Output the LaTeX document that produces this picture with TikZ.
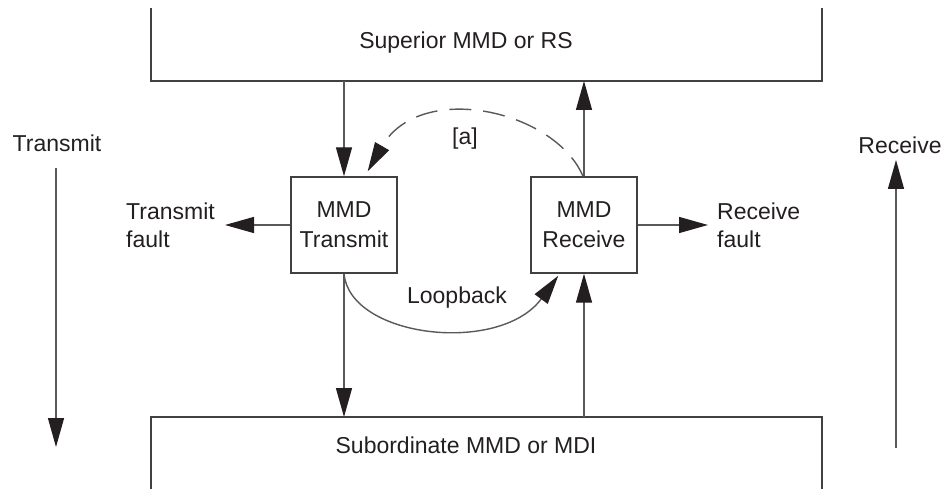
\documentclass[tikz,border=0pt]{standalone}
\usepackage{fontspec}
\setmainfont{Liberation Sans}
\usetikzlibrary{arrows.meta,calc}
\definecolor{linec}{HTML}{58595B}
\definecolor{inkc}{HTML}{231F20}
\definecolor{boxc}{HTML}{414042}
\tikzset{
  lbl/.style={text=inkc, font=\fontsize{23}{28}\selectfont, inner sep=0pt},
  mbox/.style={draw=boxc, line width=1.4pt, minimum width=106pt, minimum height=96pt,
    align=center, text=inkc, font=\fontsize{23}{30}\selectfont, inner sep=0pt},
  arr/.style={draw=linec, line width=1.4pt, -{Triangle[length=29pt,width=16pt,color=inkc]}},
  frame/.style={draw=boxc, line width=1.4pt},
  dashedarc/.style={dash pattern=on 22pt off 12pt}
}
\begin{document}
\begin{tikzpicture}[x=1pt,y=-1pt]
\useasboundingbox (0,0) rectangle (948,489);
% outer boxes
\coordinate (supTL) at (151,8);
\coordinate (supBL) at (151,81);
\coordinate (supBR) at (822,81);
\coordinate (supTR) at (822,8);
\draw[frame] (supTL) -- (supBL) -- (supBR) -- (supTR);
\node[lbl] (sup) at (466,43) {Superior MMD or RS};
\coordinate (subBL) at (151,489);
\coordinate (subTL) at (151,417);
\coordinate (subTR) at (822,417);
\coordinate (subBR) at (822,489);
\draw[frame] (subBL) -- (subTL) -- (subTR) -- (subBR);
\node[lbl] (sub) at (466,445) {Subordinate MMD or MDI};
% MMD boxes
\node[mbox] (tx) at (344,225) {MMD\\Transmit};
\node[mbox] (rx) at (584,225) {MMD\\Receive};
% vertical connectors
\draw[arr] (tx.north |- supBL) -- (tx.north);
\draw[arr] (rx.north) -- (rx.north |- supBL);
\draw[arr] (tx.south) -- (tx.south |- subTL);
\draw[arr] (rx.south |- subTL) -- (rx.south);
% fault labels
\node[lbl, align=left, anchor=east, inner xsep=10pt] (tfl) at (225,225) {Transmit\\fault};
\node[lbl, align=left, anchor=west, inner xsep=9pt] (rfl) at (708,225) {Receive\\fault};
\draw[arr] (tx.west) -- (tfl.east);
\draw[arr] (rx.east) -- (rfl.west);
% loopback
\coordinate (lbend) at ([xshift=28pt,yshift=-2pt]rx.south west);
\draw[arr] (tx.south) .. controls (350,338) and (500,355) .. (lbend);
\node[lbl] (lb) at (457,298) {Loopback};
% dashed [a]
\coordinate (aend) at ([xshift=-30pt,yshift=5pt]tx.north east);
\draw[arr, dashedarc] ([xshift=-1pt]rx.north) .. controls (555,110) and (420,80) .. (aend);
\node[lbl] (alab) at (465,139) {[a]};
% side arrows
\node[lbl] (tlab) at (57,143) {Transmit};
\coordinate (ttop) at (56,168);
\coordinate (tbot) at (56,447);
\draw[arr] (ttop) -- (tbot);
\node[lbl] (rlab) at (900,145) {Receive};
\coordinate (rbot) at (896,448);
\coordinate (rtop) at (896,160);
\draw[arr] (rbot) -- (rtop);
\end{tikzpicture}
\end{document}
